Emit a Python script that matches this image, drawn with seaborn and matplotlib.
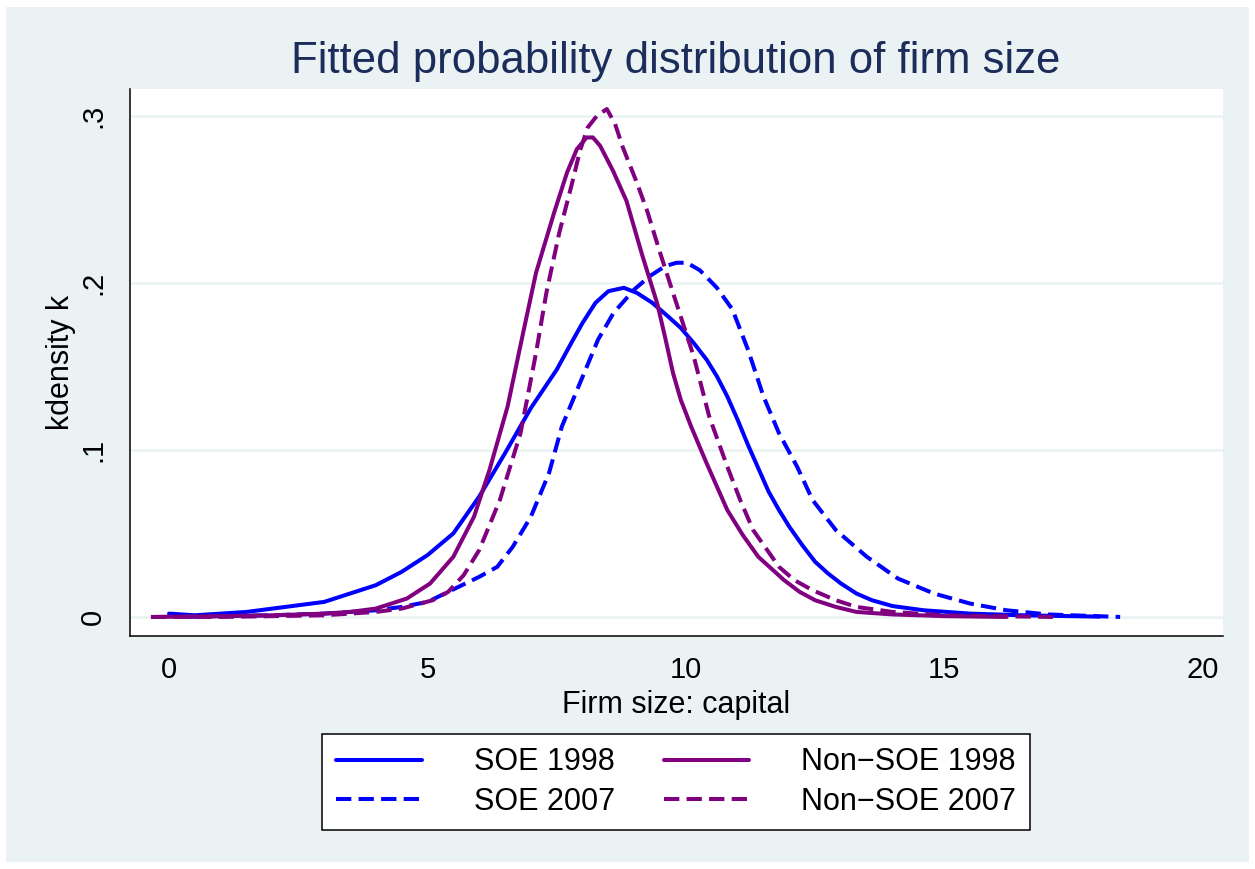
import numpy as np
import pandas as pd
import matplotlib.pyplot as plt
import seaborn as sns
from matplotlib.patches import Rectangle

# Values (kernel density of log capital)
soe98_x = [0, 0.5, 1, 1.5, 2, 2.5, 3, 3.5, 4, 4.5, 5, 5.5, 6, 6.5, 7, 7.5, 7.8, 8.0, 8.25, 8.5,
           8.8, 9.05, 9.35, 9.65, 9.9, 10.15, 10.4, 10.6, 10.8, 11.0, 11.2, 11.4, 11.6, 11.8,
           12.0, 12.25, 12.5, 12.75, 13.0, 13.3, 13.6, 14.0, 14.6, 15.5, 16.5, 18.0]
soe98_y = [0.002, 0.001, 0.002, 0.003, 0.005, 0.007, 0.009, 0.014, 0.019, 0.027, 0.037, 0.05,
           0.072, 0.098, 0.125, 0.148, 0.165, 0.176, 0.188, 0.195, 0.197, 0.194, 0.188, 0.180,
           0.173, 0.164, 0.154, 0.144, 0.132, 0.118, 0.103, 0.089, 0.075, 0.064, 0.054, 0.043,
           0.033, 0.026, 0.02, 0.014, 0.01, 0.0065, 0.004, 0.002, 0.001, 0.0002]

non98_x = [-0.3, 1, 2, 3, 3.5, 4, 4.6, 5.05, 5.5, 5.9, 6.2, 6.55, 6.85, 7.1, 7.45, 7.7, 7.89,
           8.08, 8.2, 8.34, 8.59, 8.85, 9.15, 9.45, 9.6, 9.75, 9.9, 10.1, 10.4, 10.6, 10.8, 11.1,
           11.4, 11.9, 12.2, 12.5, 12.9, 13.3, 14, 15, 16.2]
non98_y = [0, 0.0005, 0.001, 0.002, 0.003, 0.005, 0.011, 0.02, 0.036, 0.06, 0.088, 0.126, 0.17,
           0.206, 0.242, 0.266, 0.280, 0.287, 0.287, 0.282, 0.267, 0.249, 0.217, 0.187, 0.167,
           0.146, 0.130, 0.114, 0.092, 0.078, 0.064, 0.049, 0.036, 0.022, 0.015, 0.01, 0.006,
           0.003, 0.0015, 0.0005, 0.0]

soe07_x = [0.3, 1, 2, 3, 3.5, 4, 4.5, 5, 5.6, 6.0, 6.35, 6.65, 7.0, 7.35, 7.6, 7.95, 8.3, 8.6,
           9.0, 9.3, 9.6, 9.82, 10.02, 10.27, 10.6, 10.9, 11.2, 11.5, 11.8, 12.15, 12.45, 12.9,
           13.2, 13.5, 14.1, 14.8, 15.5, 16.2, 17.0, 18.4]
soe07_y = [0, 0.0005, 0.001, 0.002, 0.003, 0.004, 0.006, 0.009, 0.018, 0.024, 0.03, 0.042, 0.06,
           0.086, 0.114, 0.14, 0.166, 0.182, 0.196, 0.204, 0.210, 0.212, 0.212, 0.2075, 0.197,
           0.184, 0.16, 0.132, 0.11, 0.09, 0.07, 0.052, 0.044, 0.036, 0.023, 0.014, 0.008, 0.004,
           0.0015, 0.0]

non07_x = [-0.35, 1, 2, 3, 3.5, 4, 4.5, 5.1, 5.4, 5.7, 6.0, 6.4, 6.8, 7.1, 7.3, 7.55, 7.8, 7.95,
           8.1, 8.28, 8.47, 8.63, 8.78, 9.05, 9.25, 9.5, 9.75, 10.15, 10.45, 10.8, 11.05, 11.3,
           11.8, 12.1, 12.45, 12.9, 13.3, 14, 15, 16, 17.1]
non07_y = [0, 0, 0.0005, 0.001, 0.002, 0.003, 0.005, 0.01, 0.015, 0.025, 0.04, 0.07, 0.11, 0.158,
           0.194, 0.23, 0.26, 0.279, 0.293, 0.300, 0.304, 0.295, 0.281, 0.26, 0.243, 0.218, 0.194,
           0.156, 0.12, 0.09, 0.07, 0.052, 0.03, 0.022, 0.016, 0.01, 0.006, 0.003, 0.001, 0.0005,
           0.0]

labels = ["SOE 1998", "SOE 2007", "Non\u2212SOE 1998", "Non\u2212SOE 2007"]
xticks = [0, 5, 10, 15, 20]
yticks = [0, 0.1, 0.2, 0.3]
ytick_labels = ["0", ".1", ".2", ".3"]

dash = (0, (3.8, 1.8))
series = [
    (labels[0], soe98_x, soe98_y, "#0000FF", "-"),
    (labels[1], soe07_x, soe07_y, "#0000FF", dash),
    (labels[2], non98_x, non98_y, "#800080", "-"),
    (labels[3], non07_x, non07_y, "#800080", dash),
]

sns.set_style("white")
plt.rcParams['font.family'] = ['Liberation Sans', 'DejaVu Sans']
plt.rcParams['text.color'] = 'black'
plt.rcParams['axes.labelcolor'] = 'black'
plt.rcParams['xtick.color'] = 'black'
plt.rcParams['ytick.color'] = 'black'

W, H = 1255, 869
fig = plt.figure(figsize=(W / 100, H / 100), dpi=100)
fig.patch.set_facecolor("white")
fig.patches.append(Rectangle((6 / W, 7 / H), (W - 12) / W, (H - 14) / H,
                             transform=fig.transFigure, facecolor="#EAF2F3",
                             edgecolor="none", zorder=-1))

ax = fig.add_axes([130 / W, 1 - 636 / H, (1223 - 130) / W, (636 - 89) / H])
ax.set_facecolor("white")

for name, xs, ys, col, ls in series:
    d = pd.DataFrame({"x": xs, "y": ys})
    sns.lineplot(data=d, x="x", y="y", ax=ax, color=col, linestyle=ls,
                 linewidth=2.9, label=name, estimator=None,
                 dash_capstyle="butt", solid_capstyle="round", solid_joinstyle="round")

ax.set_xlim(-0.755, 20.39)
ax.set_ylim(-0.0114, 0.316)
ax.set_xticks(xticks)
ax.set_xticklabels([str(t) for t in xticks])
ax.set_yticks(yticks)
ax.set_yticklabels(ytick_labels, rotation=90, va="center")
ax.grid(axis="y", color="#EAF2F3", linewidth=1.8)
ax.set_axisbelow(True)

for s in ["top", "right"]:
    ax.spines[s].set_visible(False)
for s in ["left", "bottom"]:
    ax.spines[s].set_color("black")
    ax.spines[s].set_linewidth(1.1)

ax.tick_params(axis="both", direction="out", length=8.5, width=1.1, color="black",
               labelsize=21, labelcolor="black")
ax.tick_params(axis="x", pad=6)
ax.tick_params(axis="y", pad=8)

ax.set_xlabel("Firm size: capital", fontsize=22, labelpad=4)
ax.set_ylabel("kdensity k", fontsize=22, labelpad=2)

fig.text(676 / W, 1 - 73 / H, "Fitted probability distribution of firm size",
         ha="center", va="baseline", fontsize=31.5, color="#1C2C5B")

handles, labs = ax.get_legend_handles_labels()
order = [labs.index(l) for l in labels]
leg = ax.legend([handles[i] for i in order], [labs[i] for i in order], ncol=2,
                loc="center", bbox_to_anchor=(676 / W, 1 - 782 / H),
                bbox_transform=fig.transFigure, fontsize=22, frameon=True,
                fancybox=False, framealpha=1, edgecolor="black",
                handlelength=2.8, handletextpad=1.7, columnspacing=1.6,
                labelspacing=0.3, borderpad=0.45)
leg.get_frame().set_linewidth(1.1)

fig.savefig("out.png", dpi=100)
